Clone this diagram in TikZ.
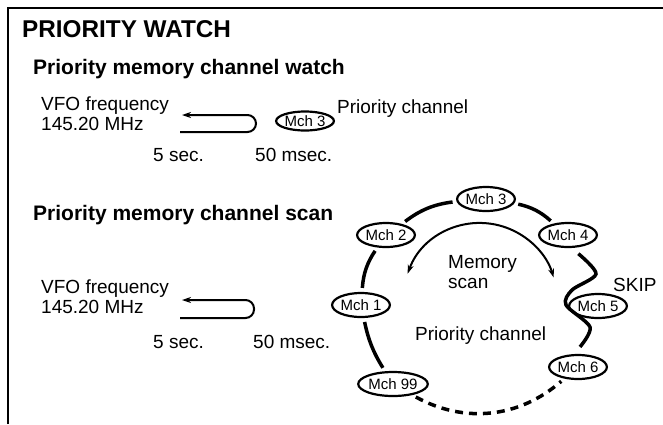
\documentclass[tikz,border=0pt]{standalone}
\usepackage{fontspec}
\setmainfont{Liberation Sans}
\usetikzlibrary{
  shapes.geometric,
  arrows.meta,
  positioning
}

\begin{document}
\begin{tikzpicture}[
  x=1pt, y=-1pt,
  font=\fontsize{19}{20}\selectfont,
  title/.style={
    anchor=base west, inner sep=0pt,
    font=\fontsize{24.3}{26}\selectfont\bfseries
  },
  subtitle/.style={
    anchor=base west, inner sep=0pt,
    font=\fontsize{21}{24}\selectfont\bfseries
  },
  txt/.style={
    anchor=base west, inner sep=0pt, align=left
  },
  mch/.style={
    draw, ellipse, line width=2.2pt, inner sep=0pt,
    minimum width=54pt, minimum height=24pt,
    font=\fontsize{15}{16}\selectfont
  },
  ring/.style={
    line width=3.5pt, shorten <=4pt, shorten >=4pt},
  loopline/.style={
    -{Stealth[length=9pt, width=6pt]},
    line width=2pt, rounded corners=8.5pt},
  scanarrow/.style={
    {Stealth[length=9pt, width=6pt]}-{Stealth[length=9pt, width=6pt]},
    line width=2pt},
  frame/.style={line width=2.5pt}
]

\useasboundingbox (0,0) rectangle (663,424);
\draw[frame] (8,424) -- (8,8) -- (663,8);

\node[title] (title) at (22,37) {PRIORITY WATCH};

% watch
\node[subtitle] (watch) at (33,74)
  {Priority memory channel watch};
\node[txt] (vfoA) at (41,130)
  {VFO frequency\\145.20 MHz};
\node[mch, minimum width=56pt, minimum height=19pt] (mchA)
  at (305,121) {Mch 3};
\node[txt] (prioA) at (337,113) {Priority channel};
\node[txt] (secA)  at (153,161) {5 sec.};
\node[txt] (msecA) at (255,161) {50 msec.};
\coordinate (inA)  at (180,132);
\coordinate (outA) at (182,115);
\draw[loopline] (inA) -- (256,132) -- (256,115) -- (outA);

% scan
\node[subtitle] (scan) at (33,220)
  {Priority memory channel scan};
\node[txt] (vfoB) at (41,313)
  {VFO frequency\\145.20 MHz};
\node[txt] (secB)  at (153,348) {5 sec.};
\node[txt] (msecB) at (253,348) {50 msec.};
\coordinate (inB)  at (180,318);
\coordinate (outB) at (182,300);
\draw[loopline] (inB) -- (254,318) -- (254,300) -- (outB);

\node[mch] (m3)  at (486,199) {Mch 3};
\node[mch] (m2)  at (386,235) {Mch 2};
\node[mch] (m4)  at (568,235) {Mch 4};
\node[mch] (m1)  at (361,305) {Mch 1};
\node[mch] (m5)  at (598,306) {Mch 5};
\node[mch] (m6)  at (578,367) {Mch 6};
\node[mch] (m99) at (393,384) {Mch 99};

\node[txt] (skip) at (613,291) {SKIP};
\node[txt] (mscan) at (448,288) {Memory\\scan};
\node[txt] (prioB) at (415,340) {Priority channel};

\draw[ring] (m1) to[bend left=15] (m2);
\draw[ring] (m2) to[bend left=15] (m3);
\draw[ring] (m3) to[bend left=15] (m4);
\draw[ring] (m99) to[bend left=10] (m1);
\draw[ring, dash pattern=on 8pt off 6pt]
  (m99) to[bend right=35] (m6);
\draw[line width=3.5pt] plot[smooth] coordinates {
  ([shift={(3,6)}]m4.-60) (596,274) (572,290) (566,305)
  (590,327) ([shift={(2,-7)}]m6.north)};

\coordinate (scanC) at (480,300);
\draw[scanarrow] ([shift={(-160:77)}]scanC)
  arc[start angle=-160, end angle=-17, radius=77];

\end{tikzpicture}
\end{document}
